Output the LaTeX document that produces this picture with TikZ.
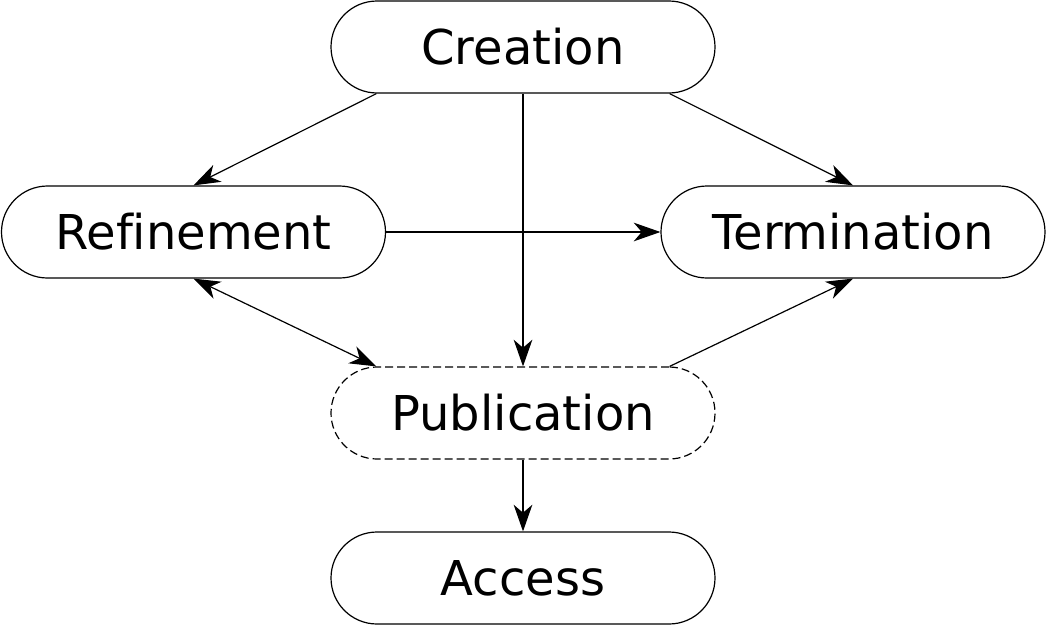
\documentclass[tikz,border=0pt]{standalone}
\usepackage{fontspec}
\setmainfont[Ligatures=NoCommon]{DejaVu Sans}
\usetikzlibrary{arrows.meta}

\begin{document}
\begin{tikzpicture}[x=0.75pt,y=0.75pt,yscale=-1,
  stage/.style={draw, line width=0.9pt, rounded corners=34.5pt, minimum width=288pt, minimum height=69pt, inner sep=0pt, font=\fontsize{36}{43}\selectfont},
  flow/.style={line width=0.9pt, -{Stealth[length=20pt,width=14pt,inset=6pt]}},
  twoway/.style={line width=0.9pt, {Stealth[length=20pt,width=14pt,inset=6pt]}-{Stealth[length=20pt,width=14pt,inset=6pt]}}]
\useasboundingbox (0,0) rectangle (1046,625);

% Stages
\node [stage] (creation) at (523,47) {Creation};
\node [stage] (refinement) at (193.5,232) {Refinement};
\node [stage] (termination) at (853,232) {Termination};
\node [stage, dash pattern=on 6pt off 3pt] (publication) at (523,413) {Publication};
\node [stage] (access) at (523,578) {Access};

% Transitions
\draw [flow] ([xshift=34.5pt]creation.south west) -- (refinement.north);
\draw [flow] (creation.south) -- (publication.north);
\draw [flow] ([xshift=-34.5pt]creation.south east) -- (termination.north);
\draw [flow] (refinement.east) -- (termination.west);
\draw [twoway] (refinement.south) -- ([xshift=34.5pt]publication.north west);
\draw [flow] ([xshift=-34.5pt]publication.north east) -- (termination.south);
\draw [flow] (publication.south) -- (access.north);

\end{tikzpicture}
\end{document}
